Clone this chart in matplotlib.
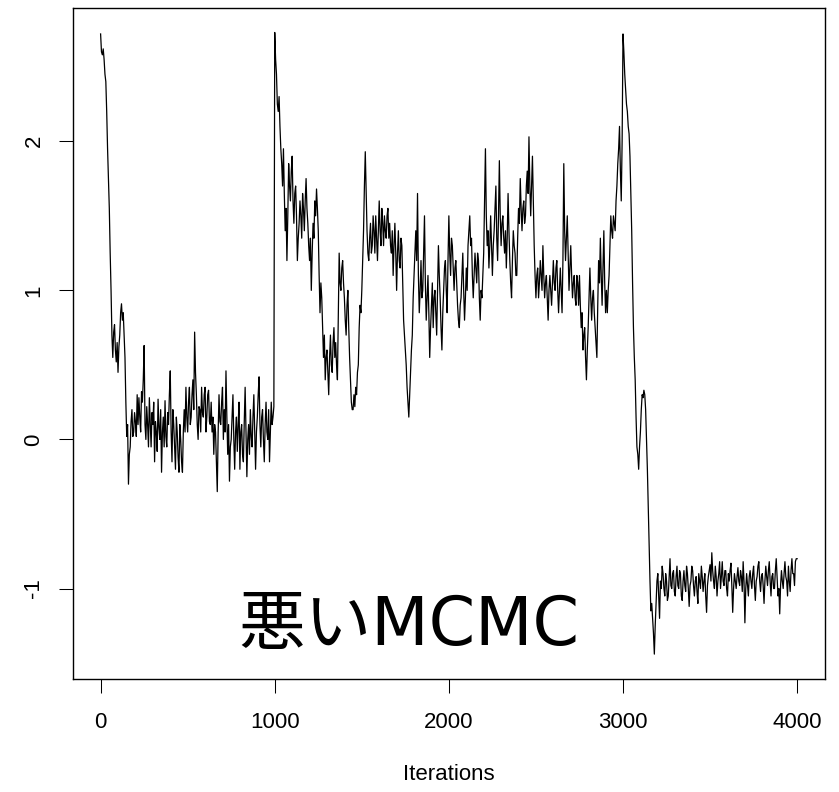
import matplotlib
matplotlib.use('Agg')
import matplotlib.pyplot as plt

# iterations (one value read every 5 iterations)
iteration = list(range(0, 4001, 5))

# chain 0 - 995 : start high, fall to ~0
chain_1 = [2.72, 2.60, 2.58, 2.62, 2.55, 2.45, 2.40, 2.20, 1.95, 1.75, 1.55, 1.25, 1.00, 0.70, 0.55, 0.72, 0.77, 0.60, 0.52, 0.65,
           0.45, 0.62, 0.70, 0.85, 0.91, 0.80, 0.85, 0.70, 0.55, 0.25, 0.02, 0.10, -0.30, -0.10, -0.05, 0.12, 0.20, 0.02, 0.05, 0.18,
           0.12, 0.02, 0.30, 0.10, 0.28, 0.15, 0.05, 0.32, 0.25, 0.40, 0.63, 0.10, 0.00, 0.22, 0.10, -0.05, 0.28, 0.12, -0.05, 0.18,
           0.10, 0.25, -0.15, 0.12, 0.05, -0.08, 0.27, 0.08, 0.00, 0.20, -0.22, 0.05, 0.15, -0.05, 0.26, 0.02, -0.05, 0.18, 0.10, 0.30,
           0.46, 0.05, -0.15, 0.20, 0.10, -0.05, -0.20, 0.15, 0.05, -0.12, -0.22, 0.10, 0.00, -0.15, -0.22, 0.05, 0.20, 0.05, 0.35, 0.15,
           0.05, 0.25, 0.35, 0.10, 0.15, 0.30, 0.40, 0.20, 0.72, 0.45, 0.30, 0.10, 0.00, 0.22, 0.20, 0.05, 0.35, 0.18, 0.15, 0.30,
           0.35, 0.05, 0.15, 0.30, 0.33, 0.12, 0.10, 0.25, 0.05, 0.15, -0.10, 0.10, 0.05, -0.15, -0.35, 0.05, 0.30, 0.12, 0.10, 0.25,
           0.35, 0.00, 0.20, 0.05, 0.46, 0.15, -0.10, 0.10, -0.28, -0.05, 0.00, 0.15, 0.30, 0.00, -0.20, 0.05, 0.15, -0.08, 0.10, 0.25,
           -0.20, 0.05, 0.10, -0.10, -0.15, 0.12, 0.35, 0.05, -0.25, 0.00, 0.10, -0.10, 0.20, 0.02, -0.05, 0.15, 0.30, 0.05, -0.20, 0.05,
           0.15, 0.30, 0.42, 0.10, -0.05, 0.15, 0.20, 0.00, -0.15, 0.10, 0.25, 0.05, 0.00, 0.20, -0.15, 0.05, 0.25, 0.10, 0.15, 0.22]

# chain 1000 - 1995
chain_2 = [2.73, 2.55, 2.45, 2.25, 2.20, 2.30, 2.10, 1.95, 1.85, 1.70, 1.95, 1.65, 1.40, 1.55, 1.20, 1.50, 1.85, 1.70, 1.60, 1.80,
           1.90, 1.60, 1.45, 1.65, 1.70, 1.50, 1.20, 1.35, 1.45, 1.60, 1.50, 1.35, 1.65, 1.55, 1.40, 1.60, 1.75, 1.55, 1.45, 1.30,
           1.20, 1.35, 1.00, 1.25, 1.45, 1.35, 1.60, 1.50, 1.68, 1.55, 1.40, 1.10, 0.85, 1.05, 0.95, 0.75, 0.55, 0.70, 0.40, 0.55,
           0.60, 0.45, 0.30, 0.55, 0.70, 0.50, 0.45, 0.65, 0.75, 0.55, 0.65, 0.50, 0.40, 0.85, 1.25, 1.05, 1.00, 1.15, 1.20, 1.05,
           0.95, 0.80, 0.70, 0.90, 1.00, 0.75, 0.55, 0.40, 0.25, 0.20, 0.20, 0.30, 0.22, 0.35, 0.30, 0.45, 0.50, 0.75, 0.90, 0.85,
           1.00, 1.20, 1.40, 1.70, 1.93, 1.65, 1.40, 1.25, 1.20, 1.35, 1.45, 1.25, 1.30, 1.50, 1.40, 1.25, 1.50, 1.35, 1.20, 1.40,
           1.60, 1.40, 1.30, 1.55, 1.45, 1.30, 1.50, 1.40, 1.35, 1.50, 1.55, 1.35, 1.45, 1.30, 1.25, 1.40, 1.10, 1.30, 1.45, 1.25,
           1.00, 1.25, 1.40, 1.20, 1.15, 1.35, 1.30, 1.05, 0.80, 0.70, 0.60, 0.50, 0.35, 0.25, 0.15, 0.30, 0.45, 0.60, 0.70, 0.95,
           1.10, 1.25, 1.40, 1.20, 1.65, 1.10, 0.85, 1.00, 1.20, 0.95, 1.00, 1.25, 1.50, 1.05, 0.80, 0.95, 1.10, 0.85, 0.55, 0.75,
           0.90, 1.05, 0.75, 0.95, 1.00, 0.85, 0.70, 1.00, 1.30, 1.10, 0.95, 0.75, 0.60, 0.85, 1.00, 1.15, 1.20, 1.00, 0.85, 1.20]

# chain 2000 - 2995
chain_3 = [1.50, 1.25, 1.10, 1.35, 1.30, 1.15, 1.00, 1.15, 1.20, 1.05, 0.90, 0.80, 0.75, 0.90, 0.95, 1.10, 1.25, 1.00, 0.80, 0.95,
           1.15, 1.00, 1.30, 1.40, 1.50, 1.30, 1.35, 1.10, 0.95, 1.10, 1.25, 1.15, 1.05, 1.25, 1.20, 0.95, 0.80, 1.00, 0.95, 1.10,
           1.25, 1.60, 1.95, 1.50, 1.30, 1.40, 1.15, 1.30, 1.50, 1.30, 1.10, 1.30, 1.40, 1.55, 1.70, 1.35, 1.20, 1.50, 1.87, 1.50,
           1.30, 1.45, 1.50, 1.35, 1.25, 1.40, 1.15, 1.35, 1.65, 1.40, 1.20, 1.05, 0.95, 1.20, 1.40, 1.30, 1.25, 1.10, 1.10, 1.35,
           1.55, 1.45, 1.75, 1.55, 1.40, 1.55, 1.60, 1.45, 1.50, 1.70, 1.80, 1.65, 2.03, 1.70, 1.50, 1.70, 1.90, 1.60, 1.30, 1.10,
           0.95, 1.10, 1.15, 0.95, 1.05, 1.20, 1.10, 1.00, 1.30, 1.10, 0.95, 1.05, 1.10, 0.95, 0.80, 1.00, 1.10, 1.00, 0.90, 1.05,
           1.20, 1.05, 1.00, 1.15, 1.20, 1.00, 0.85, 1.00, 1.15, 1.00, 0.85, 1.20, 1.85, 1.40, 1.20, 1.35, 1.50, 1.25, 1.00, 1.15,
           1.30, 1.10, 0.95, 1.05, 1.10, 0.95, 0.90, 1.10, 1.05, 0.90, 1.10, 0.90, 0.75, 0.85, 0.60, 0.70, 0.75, 0.55, 0.40, 0.60,
           0.75, 0.95, 1.15, 0.95, 0.80, 0.95, 1.00, 0.85, 0.75, 0.65, 0.55, 0.90, 1.20, 1.05, 1.35, 1.10, 0.90, 1.15, 1.40, 1.05,
           0.85, 1.00, 0.85, 1.00, 1.10, 1.30, 1.50, 1.40, 1.35, 1.50, 1.45, 1.40, 1.60, 1.70, 1.85, 1.95, 2.10, 1.80, 1.60, 2.00]

# chain 3000 - 4000 : fall to ~ -1
chain_4 = [2.72, 2.60, 2.45, 2.35, 2.25, 2.20, 2.10, 2.05, 1.90, 1.65, 1.40, 1.05, 0.75, 0.55, 0.40, 0.15, -0.05, -0.10, -0.20, -0.05,
           0.05, 0.20, 0.30, 0.28, 0.33, 0.30, 0.20, 0.00, -0.20, -0.45, -0.70, -0.95, -1.15, -1.10, -1.20, -1.30, -1.44, -1.25, -1.10, -0.95,
           -0.90, -1.05, -1.20, -0.95, -1.00, -0.85, -0.90, -1.00, -1.05, -0.90, -0.95, -1.08, -1.05, -0.92, -0.80, -0.98, -1.00, -0.90, -0.88, -1.02,
           -1.05, -0.92, -0.85, -0.98, -1.00, -0.88, -0.90, -1.05, -1.08, -0.95, -0.88, -0.98, -1.02, -0.85, -0.90, -1.00, -1.12, -0.98, -0.95, -0.85,
           -0.88, -0.98, -1.05, -0.95, -0.92, -1.02, -1.10, -0.90, -0.95, -1.00, -0.85, -0.92, -1.02, -0.95, -0.90, -1.05, -1.16, -0.98, -0.92, -0.88,
           -0.84, -0.95, -0.76, -0.88, -0.95, -1.00, -0.85, -0.92, -1.05, -0.95, -0.90, -0.82, -1.00, -0.92, -0.82, -0.95, -0.98, -0.88, -0.88, -1.00,
           -1.05, -0.90, -0.95, -0.88, -0.83, -0.98, -1.16, -1.00, -0.90, -0.95, -1.00, -0.92, -0.86, -0.95, -0.98, -0.88, -0.92, -1.02, -0.82, -0.95,
           -1.23, -1.00, -0.90, -0.98, -1.05, -0.92, -0.88, -0.95, -1.00, -0.90, -0.85, -0.98, -1.08, -0.95, -0.92, -0.85, -0.82, -0.95, -1.02, -0.92,
           -0.90, -0.98, -1.10, -0.95, -0.85, -0.92, -0.98, -0.88, -0.82, -0.95, -1.05, -0.92, -0.90, -1.00, -1.00, -0.88, -0.80, -0.92, -1.05, -1.00,
           -1.17, -0.98, -0.88, -0.95, -1.00, -0.90, -0.82, -0.92, -0.95, -1.05, -0.85, -0.95, -1.02, -0.88, -0.80, -0.90, -0.90, -0.98, -0.82, -0.80,
           -0.80]

values = chain_1 + chain_2 + chain_3 + chain_4

plt.rcParams['font.family'] = ['Liberation Sans', 'Noto Sans CJK JP']
plt.rcParams['axes.unicode_minus'] = False  # R writes "-1" with a hyphen

fig = plt.figure(figsize=(8.39, 7.92), dpi=100)
ax = fig.add_axes([0.0867, 0.1427, 0.8966, 0.8477])

ax.plot(iteration, values, color='black', linewidth=0.9)

# R style limits : 4% around the data
xr = iteration[-1] - iteration[0]
ax.set_xlim(iteration[0] - 0.04 * xr, iteration[-1] + 0.04 * xr)
yr = max(values) - min(values)
ax.set_ylim(min(values) - 0.04 * yr, max(values) + 0.04 * yr)

ax.set_xticks([0, 1000, 2000, 3000, 4000])
ax.set_yticks([-1, 0, 1, 2])
ax.tick_params(direction='out', length=10.4, width=0.75, labelsize=16, colors='black')
ax.tick_params(axis='x', pad=13.5)
ax.tick_params(axis='y', pad=10, labelrotation=90)
for lab in ax.get_yticklabels():
    lab.set_va('center')
for s in ax.spines.values():
    s.set_linewidth(1.0)

ax.set_xlabel('Iterations', fontsize=16, labelpad=22)

ax.text(1771, -1.376, '悪いMCMC', fontsize=48, ha='center', va='baseline',
        family=['DejaVu Sans', 'Noto Sans CJK JP'])

fig.savefig('out.png', dpi=100)
